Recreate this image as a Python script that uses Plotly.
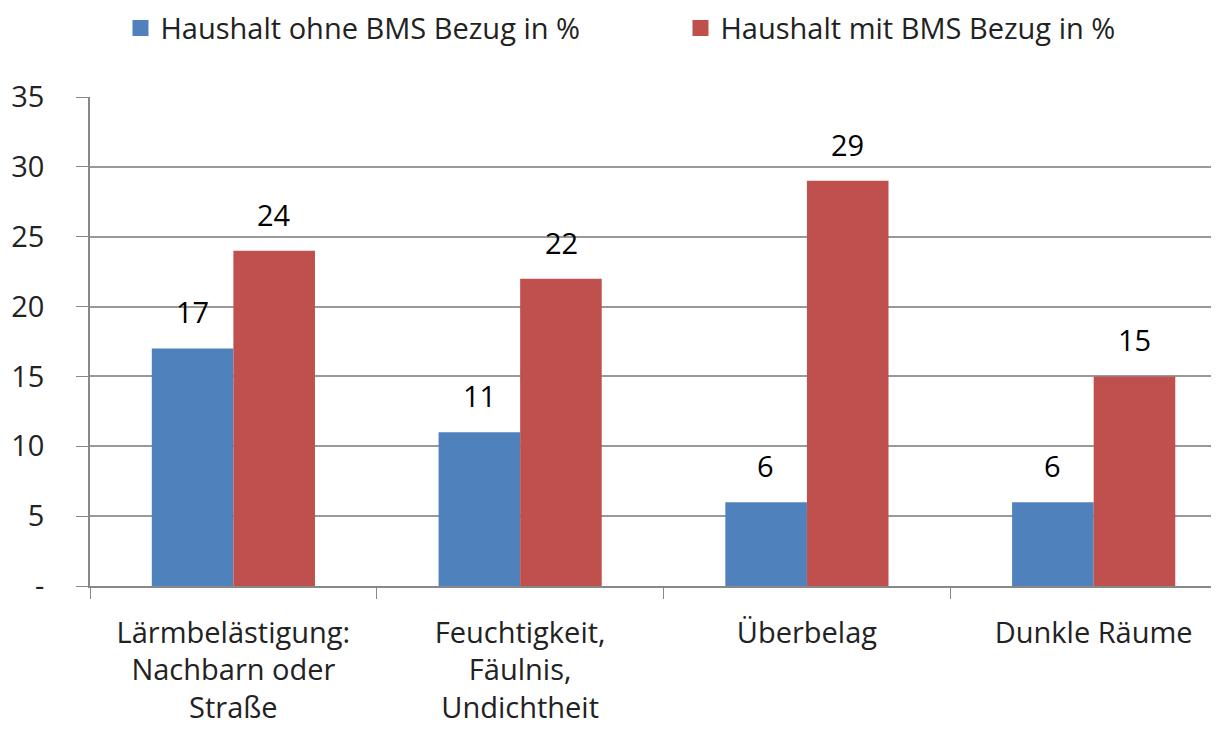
import plotly.graph_objects as go

categories = ["Lärmbelästigung:<br>Nachbarn oder<br>Straße", "Feuchtigkeit,<br>Fäulnis,<br>Undichtheit", "Überbelag", "Dunkle Räume"]
ohne_bms = [17, 11, 6, 6]
mit_bms = [24, 22, 29, 15]
series_names = ["Haushalt ohne BMS Bezug in %", "Haushalt mit BMS Bezug in %"]
colors = ["#4F81BD", "#C0504D"]
y_tickvals = [0, 5, 10, 15, 20, 25, 30, 35]
y_ticktext = ["-", "5", "10", "15", "20", "25", "30", "35"]

FONT = "Open Sans"
fs = 29

fig = go.Figure()
for name, vals, col in zip(series_names, [ohne_bms, mit_bms], colors):
    fig.add_trace(go.Bar(x=categories, y=vals, name=name, marker=dict(color=col, line=dict(width=0)),
                         showlegend=False))
    fig.add_trace(go.Scatter(x=[None], y=[None], mode="markers", name=name,
                             marker=dict(symbol="square", size=20, color=col)))

for i, (vals, shift) in enumerate([(ohne_bms, -41), (mit_bms, 41)]):
    for c, v in zip(categories, vals):
        fig.add_annotation(x=c, y=v, text=str(v), showarrow=False, xshift=shift, yshift=15,
                           yanchor="bottom", font=dict(family=FONT, size=fs, color="#000"))

fig.update_layout(
    width=1211, height=723,
    margin=dict(l=82, r=0, t=89, b=145, autoexpand=False),
    paper_bgcolor="white", plot_bgcolor="white",
    barmode="group", bargap=0.431, bargroupgap=0,
    font=dict(family=FONT, size=fs, color="#000"),
    legend=dict(orientation="h", x=0.027, xanchor="left", y=1.141, yanchor="middle",
                font=dict(family=FONT, size=fs, color="#222"), entrywidth=515, itemwidth=30),
    xaxis=dict(range=[-0.5, 3.437], tickson="boundaries", ticks="outside", ticklen=11, tickcolor="#888",
               showline=True, linecolor="#888", linewidth=1.5, showgrid=False, automargin=False,
               ticklabelstandoff=20,
               tickfont=dict(family=FONT, size=fs, color="#222"), tickangle=0),
    yaxis=dict(range=[0, 35], tickvals=y_tickvals, ticktext=y_ticktext, ticks="outside", ticklen=12,
               tickcolor="#888", showline=True, linecolor="#888", linewidth=1.5,
               showgrid=True, gridcolor="#999", gridwidth=1.5, zeroline=False, automargin=False,
               ticklabelstandoff=26, tickfont=dict(family=FONT, size=fs, color="#222")),
)

fig.write_html("out.html")
